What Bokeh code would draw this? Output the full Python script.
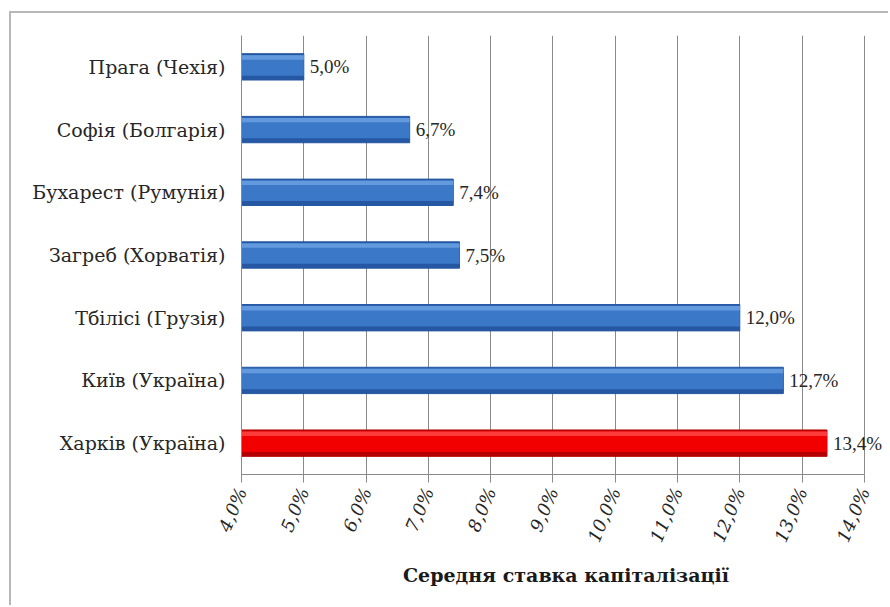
from bokeh.plotting import figure
from bokeh.models import FactorRange, Range1d, FixedTicker, ColumnDataSource, LabelSet
from bokeh.transform import dodge
from bokeh.embed import file_html
from bokeh.resources import INLINE

cities = ["Прага (Чехія)", "Софія (Болгарія)", "Бухарест (Румунія)", "Загреб (Хорватія)",
          "Тбілісі (Грузія)", "Київ (Україна)", "Харків (Україна)"]
rates = [5.0, 6.7, 7.4, 7.5, 12.0, 12.7, 13.4]
rate_labels = ["5,0%", "6,7%", "7,4%", "7,5%", "12,0%", "12,7%", "13,4%"]
x_ticks = [4, 5, 6, 7, 8, 9, 10, 11, 12, 13, 14]
x_tick_labels = ["4,0%", "5,0%", "6,0%", "7,0%", "8,0%", "9,0%", "10,0%",
                 "11,0%", "12,0%", "13,0%", "14,0%"]
x_title = "Середня ставка капіталізації"
highlight = "Харків (Україна)"

FONT = "DejaVu Serif"

dark = ["#b50000" if c == highlight else "#2557a3" for c in cities]
mid = ["#f20000" if c == highlight else "#3b78c8" for c in cities]
light = ["#ff4a4a" if c == highlight else "#6ea3e4" for c in cities]
base = [4.0] * len(cities)

p = figure(width=879, height=594,
           y_range=FactorRange(factors=list(reversed(cities))),
           x_range=Range1d(4, 14.42),
           output_backend="svg", toolbar_location=None,
           min_border_left=230, min_border_right=0,
           min_border_top=22, min_border_bottom=133)
p.margin = (11, 0, 0, 9)
p.styles = {"border-left": "2px solid #b8b8b8", "border-top": "2px solid #b8b8b8"}
p.outline_line_color = None
p.background_fill_color = "white"
p.border_fill_color = "white"

src = ColumnDataSource(dict(city=cities, rate=rates, lab=rate_labels, base=base,
                            dark=dark, mid=mid, light=light))

p.hbar(y="city", left="base", right="rate", height=0.42, source=src,
       fill_color="dark", line_color="dark")
p.hbar(y=dodge("city", 0.025, range=p.y_range), left="base", right="rate",
       height=0.33, source=src, fill_color="mid", line_color=None)
p.hbar(y=dodge("city", 0.15, range=p.y_range), left="base", right="rate",
       height=0.07, source=src, fill_color="light", line_color=None, fill_alpha=0.8)

labels = LabelSet(x="rate", y="city", text="lab", source=src, x_offset=6,
                  text_baseline="middle", text_align="left",
                  text_font=FONT, text_font_size="19px", text_color="#262626")
p.add_layout(labels)

p.xgrid.grid_line_color = "#8a8a8a"
p.xgrid.grid_line_width = 1
p.xgrid.bounds = (4, 14)
p.ygrid.grid_line_color = None

xa = p.xaxis[0]
xa.bounds = (4, 14)
xa.ticker = FixedTicker(ticks=x_ticks)
xa.major_label_overrides = {t: l for t, l in zip(x_ticks, x_tick_labels)}
xa.major_label_orientation = 1.17
xa.major_label_text_font = FONT
xa.major_label_text_font_style = "italic"
xa.major_label_text_font_size = "18px"
xa.major_label_text_color = "#262626"
xa.major_label_standoff = 6
xa.axis_line_color = "#8a8a8a"
xa.major_tick_line_color = "#8a8a8a"
xa.major_tick_out = 8
xa.major_tick_in = 0
xa.minor_tick_line_color = None
xa.axis_label = x_title
xa.axis_label_text_font = FONT
xa.axis_label_text_font_style = "bold"
xa.axis_label_text_font_size = "19px"
xa.axis_label_text_color = "#1a1a1a"
xa.axis_label_standoff = 12

ya = p.yaxis[0]
ya.major_label_text_font = FONT
ya.major_label_text_font_size = "19px"
ya.major_label_text_color = "#262626"
ya.major_label_standoff = 16
ya.axis_line_color = "#8a8a8a"
ya.major_tick_line_color = None
ya.major_tick_out = 0
ya.major_tick_in = 0

open("out.html", "w").write(file_html(p, INLINE))
